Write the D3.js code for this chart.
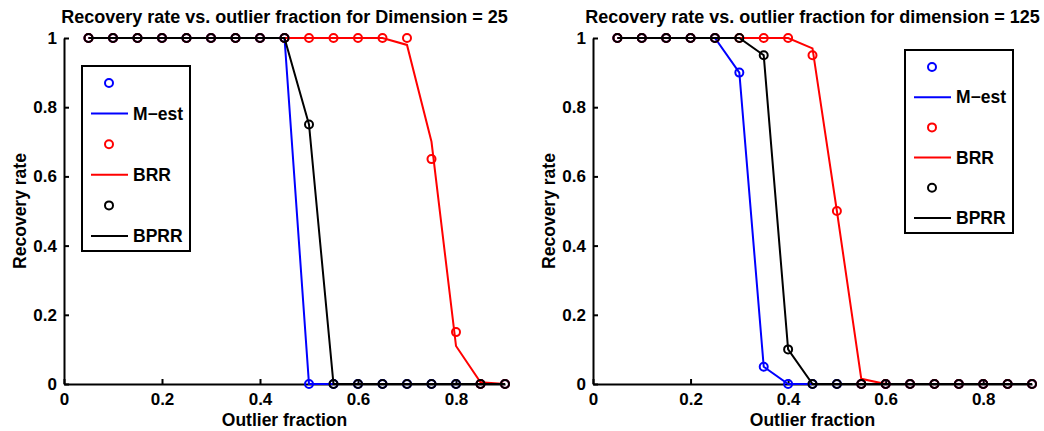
<!DOCTYPE html>
<html><head><meta charset="utf-8">
<script src="https://cdn.jsdelivr.net/npm/d3@7"></script>
<style>
body{margin:0;background:#fff;}
text{font-family:"Liberation Sans",Arial,Helvetica,sans-serif;font-weight:bold;fill:#000;}
</style></head>
<body><svg id="c" width="1044" height="431"></svg>
<script>
// ---- data ----
const fractions = [0.05,0.1,0.15,0.2,0.25,0.3,0.35,0.4,0.45,0.5,0.55,0.6,0.65,0.7,0.75,0.8,0.85,0.9];
const xTicks = [0,0.2,0.4,0.6,0.8];
const yTicks = [0,0.2,0.4,0.6,0.8,1];
const seriesNames = ["M\u2212est","BRR","BPRR"];
const seriesColors = ["#0000ff","#ff0000","#000000"];
// Dimension = 25
const d25_mest_marks = [1,1,1,1,1,1,1,1,1,0,0,0,0,0,0,0,0,0];
const d25_mest_line  = [1,1,1,1,1,1,1,1,1,0,0,0,0,0,0,0,0,0];
const d25_brr_marks  = [1,1,1,1,1,1,1,1,1,1,1,1,1,1,0.65,0.15,0,0];
const d25_brr_line   = [1,1,1,1,1,1,1,1,1,1,1,1,1,0.98,0.70,0.11,0.005,0];
const d25_bprr_marks = [1,1,1,1,1,1,1,1,1,0.75,0,0,0,0,0,0,0,0];
const d25_bprr_line  = [1,1,1,1,1,1,1,1,1,0.75,0,0,0,0,0,0,0,0];
// dimension = 125
const d125_mest_marks = [1,1,1,1,1,0.9,0.05,0,0,0,0,0,0,0,0,0,0,0];
const d125_mest_line  = [1,1,1,1,1,0.9,0.05,0,0,0,0,0,0,0,0,0,0,0];
const d125_brr_marks  = [1,1,1,1,1,1,1,1,0.95,0.5,0,0,0,0,0,0,0,0];
const d125_brr_line   = [1,1,1,1,1,1,1,1,0.97,0.5,0.015,0,0,0,0,0,0,0];
const d125_bprr_marks = [1,1,1,1,1,1,0.95,0.1,0,0,0,0,0,0,0,0,0,0];
const d125_bprr_line  = [1,1,1,1,1,1,0.95,0.1,0,0,0,0,0,0,0,0,0,0];

const panels = [
  {title:"Recovery rate vs. outlier fraction for Dimension = 25", x0:64, x1:505,
   marks:[d25_mest_marks,d25_brr_marks,d25_bprr_marks], lines:[d25_mest_line,d25_brr_line,d25_bprr_line],
   legend:{x:82,y:66,w:108,h:185}},
  {title:"Recovery rate vs. outlier fraction for dimension = 125", x0:593, x1:1032,
   marks:[d125_mest_marks,d125_brr_marks,d125_bprr_marks], lines:[d125_mest_line,d125_brr_line,d125_bprr_line],
   legend:{x:905,y:50,w:108,h:183}}
];

const svg = d3.select("#c");
const yTop = 38, yBot = 384;
const FS = "17.5px";

panels.forEach(p => {
  const x = d3.scaleLinear().domain([0,0.9]).range([p.x0,p.x1]);
  const y = d3.scaleLinear().domain([0,1]).range([yBot,yTop]);
  const g = svg.append("g");

  // axes
  const xa = g.append("g").attr("transform",`translate(0,${yBot})`)
    .call(d3.axisBottom(x).tickValues(xTicks).tickSizeInner(-5).tickSizeOuter(0).tickPadding(9).tickFormat(d3.format("")));
  const ya = g.append("g").attr("transform",`translate(${p.x0},0)`)
    .call(d3.axisLeft(y).tickValues(yTicks).tickSizeInner(-5).tickSizeOuter(0).tickPadding(7).tickFormat(d3.format("")));
  [xa,ya].forEach(a=>{
    a.select(".domain").attr("stroke","#000").attr("stroke-width",2);
    a.selectAll(".tick line").attr("stroke","#000").attr("stroke-width",2);
    a.selectAll(".tick text").style("font-size","17px").attr("fill","#000");
  });
  xa.selectAll(".tick text").attr("dy","0.71em");

  // series
  const lineGen = d3.line().x((d,i)=>x(fractions[i])).y(d=>y(d));
  for(let s=0;s<3;s++){
    g.append("g").selectAll("circle").data(p.marks[s]).join("circle")
      .attr("cx",(d,i)=>x(fractions[i])).attr("cy",d=>y(d)).attr("r",4)
      .attr("fill","none").attr("stroke",seriesColors[s]).attr("stroke-width",2);
    g.append("path").datum(p.lines[s]).attr("d",lineGen)
      .attr("fill","none").attr("stroke",seriesColors[s]).attr("stroke-width",2);
  }

  // title
  g.append("text").attr("x",(p.x0+p.x1)/2).attr("y",23).attr("text-anchor","middle")
    .style("font-size","18px").text(p.title);
  // axis labels
  g.append("text").attr("x",(p.x0+p.x1)/2).attr("y",426).attr("text-anchor","middle")
    .style("font-size",FS).text("Outlier fraction");
  g.append("text").attr("transform",`translate(${p.x0-38},${(yTop+yBot)/2}) rotate(-90)`)
    .attr("text-anchor","middle").style("font-size",FS).text("Recovery rate");

  // legend
  const L = p.legend;
  const lg = g.append("g");
  lg.append("rect").attr("x",L.x).attr("y",L.y).attr("width",L.w).attr("height",L.h)
    .attr("fill","#fff").attr("stroke","#000").attr("stroke-width",2);
  const step = (L.h-32)/5;
  for(let s=0;s<3;s++){
    const cy = L.y+17+step*2*s;
    lg.append("circle").attr("cx",L.x+27).attr("cy",cy).attr("r",4)
      .attr("fill","none").attr("stroke",seriesColors[s]).attr("stroke-width",2);
    const ly = cy+step;
    lg.append("line").attr("x1",L.x+9).attr("x2",L.x+46).attr("y1",ly).attr("y2",ly)
      .attr("stroke",seriesColors[s]).attr("stroke-width",2);
    lg.append("text").attr("x",L.x+51).attr("y",ly).attr("dy","0.35em")
      .style("font-size",FS).text(seriesNames[s]);
  }
});
</script></body></html>
